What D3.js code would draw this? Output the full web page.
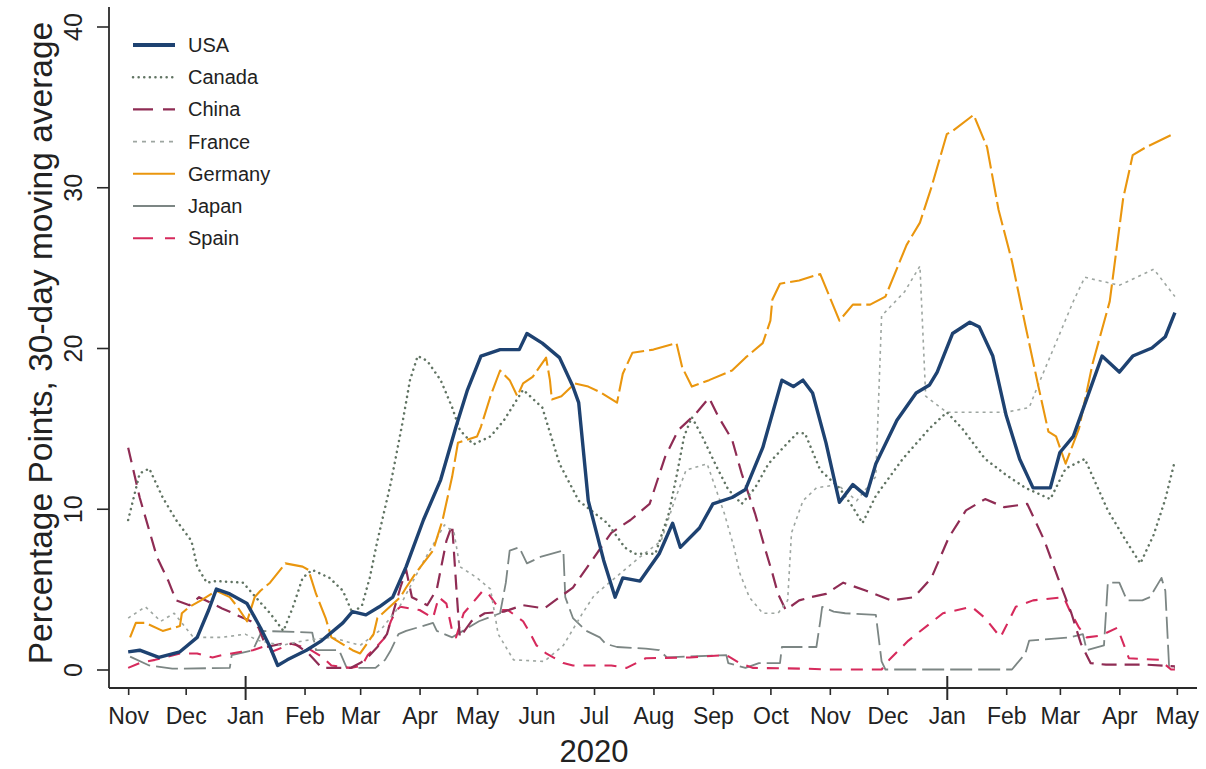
<!DOCTYPE html>
<html>
<head>
<meta charset="utf-8">
<script src="https://cdn.jsdelivr.net/npm/d3@7"></script>
<style>
  html, body { margin: 0; padding: 0; background: #fff; }
  svg { display: block; font-family: 'Liberation Sans', Arial, sans-serif; }
</style>
</head>
<body>
<div id="chart"></div>
<script>
// values: [day, percentage points, 30-day moving average]
const countries = ['USA', 'Canada', 'China', 'France', 'Germany', 'Japan', 'Spain']
const monthLabels = ['Nov', 'Dec', 'Jan', 'Feb', 'Mar', 'Apr', 'May', 'Jun', 'Jul', 'Aug',
  'Sep', 'Oct', 'Nov', 'Dec', 'Jan', 'Feb', 'Mar', 'Apr', 'May']
const yTicks = [0, 10, 20, 30, 40]
const yearLabel = '2020'
const yTitle = 'Percentage Points, 30-day moving average'

const usa = [
  ['2019-11-01', 1.1], ['2019-11-07', 1.2], ['2019-11-17', 0.75], ['2019-11-28', 1.1], ['2019-12-07', 2.0],
  ['2019-12-13', 3.7], ['2019-12-17', 5.0], ['2019-12-24', 4.7], ['2020-01-02', 4.1], ['2020-01-09', 2.6],
  ['2020-01-14', 1.4], ['2020-01-18', 0.25], ['2020-01-23', 0.6], ['2020-02-02', 1.2], ['2020-02-10', 1.8],
  ['2020-02-21', 2.9], ['2020-02-26', 3.6], ['2020-03-04', 3.4], ['2020-03-11', 3.9], ['2020-03-18', 4.5],
  ['2020-03-25', 6.4], ['2020-04-03', 9.3], ['2020-04-12', 11.8], ['2020-04-20', 15.1], ['2020-04-26', 17.4],
  ['2020-05-03', 19.5], ['2020-05-13', 19.9], ['2020-05-23', 19.9], ['2020-05-27', 20.9], ['2020-06-04', 20.3],
  ['2020-06-13', 19.4], ['2020-06-20', 17.6], ['2020-06-23', 16.6], ['2020-06-28', 10.5], ['2020-07-06', 6.8],
  ['2020-07-12', 4.5], ['2020-07-16', 5.7], ['2020-07-25', 5.5], ['2020-08-04', 7.2], ['2020-08-11', 9.1],
  ['2020-08-15', 7.6], ['2020-08-25', 8.8], ['2020-09-01', 10.3], ['2020-09-11', 10.7], ['2020-09-18', 11.2],
  ['2020-09-27', 13.8], ['2020-10-07', 18.0], ['2020-10-13', 17.6], ['2020-10-18', 18.0], ['2020-10-23', 17.2],
  ['2020-10-30', 14.1], ['2020-11-06', 10.4], ['2020-11-13', 11.5], ['2020-11-20', 10.8], ['2020-11-25', 12.8],
  ['2020-12-06', 15.5], ['2020-12-16', 17.2], ['2020-12-23', 17.7], ['2020-12-27', 18.5], ['2021-01-04', 20.9],
  ['2021-01-13', 21.6], ['2021-01-18', 21.3], ['2021-01-25', 19.5], ['2021-02-01', 15.8], ['2021-02-08', 13.1],
  ['2021-02-15', 11.3], ['2021-02-24', 11.3], ['2021-03-01', 13.5], ['2021-03-08', 14.5], ['2021-03-17', 17.5],
  ['2021-03-23', 19.5], ['2021-04-01', 18.5], ['2021-04-08', 19.5], ['2021-04-18', 20.0], ['2021-04-25', 20.7],
  ['2021-04-30', 22.2]
]

const canada = [
  ['2019-11-01', 9.3], ['2019-11-07', 12.2], ['2019-11-12', 12.5], ['2019-11-19', 10.7], ['2019-11-26', 9.3],
  ['2019-12-04', 8.0], ['2019-12-07', 6.4], ['2019-12-12', 5.4], ['2019-12-17', 5.5], ['2019-12-31', 5.4],
  ['2020-01-05', 4.7], ['2020-01-14', 3.5], ['2020-01-21', 2.4], ['2020-01-26', 3.9], ['2020-01-31', 5.7],
  ['2020-02-05', 6.2], ['2020-02-14', 5.7], ['2020-02-21', 4.9], ['2020-02-26', 3.5], ['2020-03-02', 4.0],
  ['2020-03-06', 5.7], ['2020-03-10', 8.0], ['2020-03-17', 11.6], ['2020-03-23', 15.3], ['2020-03-27', 18.0],
  ['2020-03-31', 19.5], ['2020-04-05', 19.2], ['2020-04-12', 18.0], ['2020-04-18', 16.3], ['2020-04-22', 14.9],
  ['2020-04-29', 14.0], ['2020-05-08', 14.5], ['2020-05-15', 15.5], ['2020-05-25', 17.4], ['2020-06-04', 16.3],
  ['2020-06-13', 12.8], ['2020-06-23', 10.5], ['2020-07-08', 9.1], ['2020-07-17', 7.6], ['2020-07-22', 7.2],
  ['2020-08-02', 7.2], ['2020-08-09', 9.7], ['2020-08-13', 12.0], ['2020-08-17', 14.5], ['2020-08-21', 15.7],
  ['2020-08-26', 14.6], ['2020-09-03', 12.6], ['2020-09-09', 11.2], ['2020-09-16', 10.3], ['2020-09-23', 11.3],
  ['2020-09-30', 12.8], ['2020-10-10', 14.1], ['2020-10-15', 14.7], ['2020-10-19', 14.7], ['2020-10-27', 12.4],
  ['2020-11-06', 11.3], ['2020-11-13', 10.1], ['2020-11-18', 9.1],
  ['2020-11-25', 10.8], ['2020-12-09', 13.1], ['2020-12-23', 15.0], ['2021-01-01', 16.0], ['2021-01-09', 15.0],
  ['2021-01-21', 13.1], ['2021-02-01', 12.1], ['2021-02-11', 11.3], ['2021-02-24', 10.6], ['2021-03-04', 12.5],
  ['2021-03-14', 13.1], ['2021-03-26', 9.9], ['2021-04-04', 8.1], ['2021-04-12', 6.6], ['2021-04-19', 8.4],
  ['2021-04-25', 10.6], ['2021-04-30', 13.0]
]

const china = [
  ['2019-11-01', 13.8], ['2019-11-07', 10.7], ['2019-11-16', 7.0], ['2019-11-22', 5.5], ['2019-11-26', 4.3],
  ['2019-12-03', 4.0], ['2019-12-08', 4.5], ['2019-12-20', 3.8], ['2020-01-04', 3.0], ['2020-01-08', 2.6],
  ['2020-01-12', 1.4], ['2020-01-20', 1.6], ['2020-01-27', 1.6], ['2020-02-03', 1.0], ['2020-02-10', 0.1],
  ['2020-02-25', 0.1], ['2020-03-01', 0.4], ['2020-03-05', 0.75], ['2020-03-10', 1.4], ['2020-03-15', 2.2],
  ['2020-03-22', 5.1], ['2020-03-25', 6.2], ['2020-03-28', 4.5], ['2020-04-05', 4.0], ['2020-04-10', 5.0],
  ['2020-04-15', 8.0], ['2020-04-18', 9.0], ['2020-04-20', 5.4], ['2020-04-22', 2.0], ['2020-04-28', 3.0],
  ['2020-05-05', 3.5], ['2020-05-15', 3.6], ['2020-05-25', 4.0], ['2020-06-05', 3.8], ['2020-06-20', 5.1],
  ['2020-06-30', 6.8], ['2020-07-10', 8.5], ['2020-07-20', 9.3], ['2020-07-30', 10.3], ['2020-08-07', 13.2],
  ['2020-08-14', 14.9], ['2020-08-23', 15.9], ['2020-08-30', 16.9], ['2020-09-04', 15.7], ['2020-09-11', 14.3],
  ['2020-09-16', 12.2], ['2020-09-23', 9.7], ['2020-09-28', 7.6], ['2020-10-02', 6.0], ['2020-10-05', 4.7],
  ['2020-10-09', 3.7], ['2020-10-16', 4.3], ['2020-10-22', 4.5], ['2020-10-30', 4.7], ['2020-11-08', 5.4],
  ['2020-11-20', 4.9], ['2020-12-03', 4.3], ['2020-12-15', 4.5], ['2020-12-24', 5.7], ['2021-01-02', 8.2],
  ['2021-01-11', 9.9], ['2021-01-21', 10.6], ['2021-01-31', 10.1], ['2021-02-12', 10.3], ['2021-02-21', 8.0],
  ['2021-02-28', 5.7], ['2021-03-07', 3.5], ['2021-03-12', 1.6], ['2021-03-17', 0.4], ['2021-03-25', 0.3],
  ['2021-04-15', 0.3], ['2021-04-30', 0.2]
]

const france = [
  ['2019-11-01', 3.2], ['2019-11-10', 3.9], ['2019-11-18', 3.0], ['2019-11-25', 3.5], ['2019-12-05', 2.0],
  ['2019-12-20', 2.0], ['2020-01-01', 2.2], ['2020-01-08', 1.8], ['2020-01-20', 1.5], ['2020-02-01', 1.8],
  ['2020-02-15', 2.0], ['2020-03-01', 1.5], ['2020-03-12', 2.5], ['2020-03-22', 4.0], ['2020-04-02', 6.5],
  ['2020-04-14', 9.0], ['2020-04-19', 8.5], ['2020-04-22', 6.4], ['2020-05-01', 5.7], ['2020-05-08', 5.0],
  ['2020-05-12', 2.2], ['2020-05-20', 0.6], ['2020-06-05', 0.5], ['2020-06-15', 1.5], ['2020-06-25', 3.5],
  ['2020-07-01', 4.6], ['2020-07-15', 6.0], ['2020-07-25', 7.0], ['2020-08-05', 8.0], ['2020-08-12', 10.5],
  ['2020-08-18', 12.4], ['2020-08-29', 12.8], ['2020-09-07', 9.7], ['2020-09-12', 7.6], ['2020-09-15', 6.0],
  ['2020-09-20', 4.5], ['2020-09-27', 3.5], ['2020-10-05', 3.5], ['2020-10-10', 4.3], ['2020-10-12', 8.5],
  ['2020-10-18', 10.5], ['2020-10-25', 11.3], ['2020-11-05', 11.5], ['2020-11-15', 10.5], ['2020-11-25', 12.0],
  ['2020-11-28', 22.0], ['2020-12-10', 23.5], ['2020-12-18', 25.1], ['2020-12-21', 17.0], ['2021-01-01', 16.0],
  ['2021-02-01', 16.0], ['2021-02-13', 16.3], ['2021-02-17', 17.5], ['2021-03-08', 22.9], ['2021-03-14', 24.4],
  ['2021-04-01', 23.9], ['2021-04-19', 24.9], ['2021-04-30', 23.2]
]

const germany = [
  ['2019-11-02', 2.0], ['2019-11-05', 2.9], ['2019-11-10', 2.9], ['2019-11-19', 2.4], ['2019-11-28', 2.7],
  ['2019-11-29', 3.5], ['2019-12-03', 3.9], ['2019-12-09', 4.3], ['2019-12-17', 4.9], ['2019-12-24', 4.5],
  ['2019-12-28', 3.9], ['2020-01-02', 3.0], ['2020-01-06', 4.5], ['2020-01-09', 4.9], ['2020-01-14', 5.4],
  ['2020-01-22', 6.6], ['2020-01-31', 6.4], ['2020-02-03', 6.2], ['2020-02-07', 4.7], ['2020-02-12', 3.2],
  ['2020-02-15', 2.0], ['2020-02-26', 1.2], ['2020-03-01', 1.0], ['2020-03-08', 2.2], ['2020-03-10', 3.2],
  ['2020-03-22', 4.5], ['2020-03-25', 5.1], ['2020-03-30', 6.0], ['2020-04-08', 7.4], ['2020-04-13', 9.3],
  ['2020-04-18', 12.0], ['2020-04-21', 14.1], ['2020-05-01', 14.5], ['2020-05-03', 15.1], ['2020-05-08', 17.0],
  ['2020-05-13', 18.6], ['2020-05-18', 18.0], ['2020-05-22', 17.0], ['2020-05-25', 17.8], ['2020-05-30', 18.2],
  ['2020-06-06', 19.4], ['2020-06-08', 18.0], ['2020-06-09', 16.8], ['2020-06-14', 17.0], ['2020-06-21', 17.8],
  ['2020-06-28', 17.6], ['2020-07-05', 17.2], ['2020-07-13', 16.6], ['2020-07-16', 18.4], ['2020-07-21', 19.7],
  ['2020-08-01', 19.9], ['2020-08-13', 20.3], ['2020-08-16', 18.8], ['2020-08-21', 17.6], ['2020-08-30', 18.0],
  ['2020-09-11', 18.6], ['2020-09-18', 19.4], ['2020-09-27', 20.3], ['2020-10-01', 21.7], ['2020-10-02', 23.0],
  ['2020-10-06', 24.0], ['2020-10-16', 24.2], ['2020-10-24', 24.5], ['2020-10-27', 24.6], ['2020-11-06', 21.7],
  ['2020-11-13', 22.7], ['2020-11-22', 22.7], ['2020-11-30', 23.2], ['2020-12-11', 26.4], ['2020-12-18', 27.8],
  ['2020-12-24', 30.0], ['2021-01-01', 33.3], ['2021-01-04', 33.5], ['2021-01-15', 34.5], ['2021-01-22', 32.5],
  ['2021-01-28', 28.6], ['2021-02-04', 25.4], ['2021-02-11', 21.4], ['2021-02-18', 17.5], ['2021-02-23', 14.8],
  ['2021-02-27', 14.5], ['2021-03-04', 12.8], ['2021-03-11', 15.0], ['2021-03-18', 19.0], ['2021-03-27', 22.9],
  ['2021-04-03', 29.3], ['2021-04-08', 32.0], ['2021-04-15', 32.5], ['2021-04-29', 33.3]
]

const japan = [
  ['2019-11-02', 0.8], ['2019-11-12', 0.25], ['2019-11-24', 0.05], ['2019-12-24', 0.1], ['2019-12-25', 0.9],
  ['2020-01-05', 1.2], ['2020-01-09', 2.2], ['2020-01-10', 2.4], ['2020-02-05', 2.3], ['2020-02-07', 1.2],
  ['2020-02-19', 1.2], ['2020-02-23', 0.1], ['2020-03-09', 0.1], ['2020-03-14', 0.6], ['2020-03-17', 1.2],
  ['2020-03-21', 2.2], ['2020-03-25', 2.4], ['2020-04-08', 2.9], ['2020-04-10', 2.4], ['2020-04-18', 2.0],
  ['2020-05-02', 3.0], ['2020-05-13', 3.5], ['2020-05-16', 5.4], ['2020-05-18', 7.4], ['2020-05-23', 7.6],
  ['2020-05-27', 6.6], ['2020-06-03', 7.0], ['2020-06-15', 7.4], ['2020-06-16', 4.5], ['2020-06-20', 3.2],
  ['2020-06-27', 2.4], ['2020-07-04', 2.0], ['2020-07-07', 1.6], ['2020-07-13', 1.4], ['2020-07-28', 1.3],
  ['2020-08-04', 1.2], ['2020-08-08', 0.75], ['2020-09-08', 0.9], ['2020-09-09', 0.4], ['2020-09-18', 0.1],
  ['2020-09-25', 0.4], ['2020-10-06', 0.4], ['2020-10-07', 1.4], ['2020-10-25', 1.4], ['2020-10-27', 3.0],
  ['2020-10-28', 3.9], ['2020-11-03', 3.6], ['2020-11-09', 3.5], ['2020-11-25', 3.4], ['2020-11-28', 0.5],
  ['2020-11-30', 0], ['2021-02-04', 0], ['2021-02-11', 1.0], ['2021-02-13', 1.8], ['2021-03-06', 2.0],
  ['2021-03-13', 2.2], ['2021-03-15', 1.2], ['2021-03-24', 1.5], ['2021-03-26', 5.4], ['2021-04-01', 5.4],
  ['2021-04-05', 4.3], ['2021-04-13', 4.3], ['2021-04-17', 4.5], ['2021-04-23', 5.7], ['2021-04-25', 4.9],
  ['2021-04-27', 0.1], ['2021-04-30', 0.1]
]

const spain = [
  ['2019-11-01', 0.1], ['2019-11-07', 0.4], ['2019-11-15', 0.6], ['2019-11-28', 1.0], ['2019-12-07', 1.0],
  ['2019-12-15', 0.75], ['2019-12-20', 0.9], ['2019-12-30', 1.1], ['2020-01-05', 1.2], ['2020-01-10', 1.4],
  ['2020-01-15', 1.1], ['2020-01-25', 1.6], ['2020-02-03', 1.3], ['2020-02-10', 0.8], ['2020-02-15', 0.25],
  ['2020-02-25', 0.1], ['2020-03-02', 0.25], ['2020-03-05', 0.9], ['2020-03-11', 1.6], ['2020-03-14', 2.0],
  ['2020-03-17', 3.0], ['2020-03-20', 3.7], ['2020-03-22', 3.9], ['2020-04-01', 3.7], ['2020-04-08', 3.2],
  ['2020-04-11', 4.5], ['2020-04-15', 4.1], ['2020-04-18', 2.4], ['2020-04-20', 2.0], ['2020-04-24', 3.5],
  ['2020-04-27', 3.9], ['2020-05-04', 4.9], ['2020-05-07', 4.7], ['2020-05-13', 3.7], ['2020-05-17', 3.7],
  ['2020-05-25', 3.0], ['2020-05-28', 2.4], ['2020-06-01', 1.5], ['2020-06-06', 1.0], ['2020-06-15', 0.4],
  ['2020-06-20', 0.25], ['2020-07-10', 0.25], ['2020-07-18', 0.1], ['2020-07-28', 0.7], ['2020-08-20', 0.75],
  ['2020-09-08', 0.9], ['2020-09-15', 0.4], ['2020-09-22', 0.1], ['2020-10-20', 0.05], ['2020-11-01', 0],
  ['2020-11-28', 0], ['2020-12-02', 0.6], ['2020-12-12', 1.8], ['2020-12-30', 3.5], ['2021-01-14', 3.9],
  ['2021-01-21', 3.2], ['2021-01-29', 2.0], ['2021-02-06', 3.9], ['2021-02-15', 4.3], ['2021-03-03', 4.5],
  ['2021-03-06', 3.7], ['2021-03-11', 2.6], ['2021-03-15', 2.0], ['2021-03-22', 2.1], ['2021-03-31', 2.6],
  ['2021-04-06', 0.7], ['2021-04-22', 0.6], ['2021-04-28', 0], ['2021-04-30', 0]
]

// look of each line (legend sample can differ from the plotted dash)
const styles = {
  USA:     { color: '#1e4271', width: 3.4, dash: null, legendDash: null },
  Canada:  { color: '#617463', width: 2.5, dash: '0.1,5.5', legendDash: '0.1,5.5', cap: 'round' },
  China:   { color: '#8f2c54', width: 2.2, dash: '15,8', legendDash: '20,10' },
  France:  { color: '#9ea6a1', width: 1.6, dash: '3,4', legendDash: '4,5' },
  Germany: { color: '#ea960e', width: 2.1, dash: '24,5', legendDash: null },
  Japan:   { color: '#7c8684', width: 1.8, dash: '22,6', legendDash: null },
  Spain:   { color: '#d62a5c', width: 2.1, dash: '12,9', legendDash: '20,12' },
}

const seriesByName = { USA: usa, Canada: canada, China: china, France: france, Germany: germany, Japan: japan, Spain: spain }

const width = 1206
const height = 769
const parseDay = d3.timeParse('%Y-%m-%d')

const svg = d3.select('#chart').append('svg')
  .attr('width', width)
  .attr('height', height)

svg.append('rect').attr('width', width).attr('height', height).attr('fill', '#fff')

// scales: axis runs a little past the first and last month
const x = d3.scaleTime()
  .domain([parseDay('2019-10-22'), parseDay('2021-05-11')])
  .range([109, 1196])
const y = d3.scaleLinear()
  .domain([0, 40])
  .range([669.5, 26.5])

const axisY = 688
const axisColor = '#2a2a2a'

// lines, USA drawn last so it sits on top
const line = d3.line()
  .x(d => x(parseDay(d[0])))
  .y(d => y(d[1]))

const drawOrder = ['Japan', 'Spain', 'China', 'France', 'Canada', 'Germany', 'USA']
const linesG = svg.append('g').attr('id', 'lines')
drawOrder.forEach(name => {
  const s = styles[name]
  linesG.append('path')
    .datum(seriesByName[name])
    .attr('d', line)
    .attr('fill', 'none')
    .attr('stroke', s.color)
    .attr('stroke-width', s.width)
    .attr('stroke-dasharray', s.dash)
    .attr('stroke-linecap', s.cap || 'butt')
    .attr('stroke-linejoin', 'round')
})

// y axis
const yAxisG = svg.append('g')
  .attr('transform', 'translate(109,0)')
  .call(d3.axisLeft(y).tickValues(yTicks).tickSize(12).tickFormat(d3.format('d')))
yAxisG.select('.domain').remove()
yAxisG.selectAll('.tick line').attr('stroke', axisColor).attr('stroke-width', 1.6)
yAxisG.selectAll('.tick text')
  .attr('transform', 'rotate(-90)')
  .attr('x', 0)
  .attr('y', -27)
  .attr('dy', 0)
  .attr('text-anchor', 'middle')
  .attr('font-size', 25)
  .attr('fill', '#222')
svg.append('line')
  .attr('x1', 109).attr('x2', 109)
  .attr('y1', 7).attr('y2', axisY)
  .attr('stroke', axisColor).attr('stroke-width', 1.8)

// x axis, one tick per month, January ticks longer
const monthTicks = d3.timeMonth.range(parseDay('2019-11-01'), parseDay('2021-05-02'))
const xAxisG = svg.append('g')
  .attr('transform', `translate(0,${axisY})`)
  .call(d3.axisBottom(x).tickValues(monthTicks).tickSize(7).tickFormat((d, i) => monthLabels[i]))
xAxisG.select('.domain').remove()
xAxisG.selectAll('.tick line').attr('stroke', axisColor).attr('stroke-width', 1.6)
xAxisG.selectAll('.tick')
  .filter(d => d.getMonth() === 0)
  .select('line')
  .attr('y1', -12)
  .attr('y2', 12)
  .attr('stroke-width', 2)
xAxisG.selectAll('.tick text')
  .attr('y', 36)
  .attr('dy', 0)
  .attr('font-size', 23)
  .attr('fill', '#222')
svg.append('line')
  .attr('x1', 109).attr('x2', 1197)
  .attr('y1', axisY).attr('y2', axisY)
  .attr('stroke', axisColor).attr('stroke-width', 1.8)

// axis titles
svg.append('text')
  .attr('x', x(parseDay('2020-07-01')))
  .attr('y', 762)
  .attr('text-anchor', 'middle')
  .attr('font-size', 31)
  .attr('fill', '#222')
  .text(yearLabel)

svg.append('text')
  .attr('transform', 'translate(52,343) rotate(-90)')
  .attr('text-anchor', 'middle')
  .attr('font-size', 33.5)
  .attr('fill', '#222')
  .text(yTitle)

// legend
const legendG = svg.append('g').attr('id', 'legend')
countries.forEach((name, i) => {
  const s = styles[name]
  const cy = 45 + i * 32.2
  legendG.append('line')
    .attr('x1', 133).attr('x2', 175)
    .attr('y1', cy).attr('y2', cy)
    .attr('stroke', s.color)
    .attr('stroke-width', name === 'USA' ? 4 : s.width)
    .attr('stroke-dasharray', s.legendDash)
    .attr('stroke-linecap', s.cap || 'butt')
  legendG.append('text')
    .attr('x', 188)
    .attr('y', cy + 7)
    .attr('font-size', 20)
    .attr('fill', '#222')
    .text(name)
})
</script>
</body>
</html>
